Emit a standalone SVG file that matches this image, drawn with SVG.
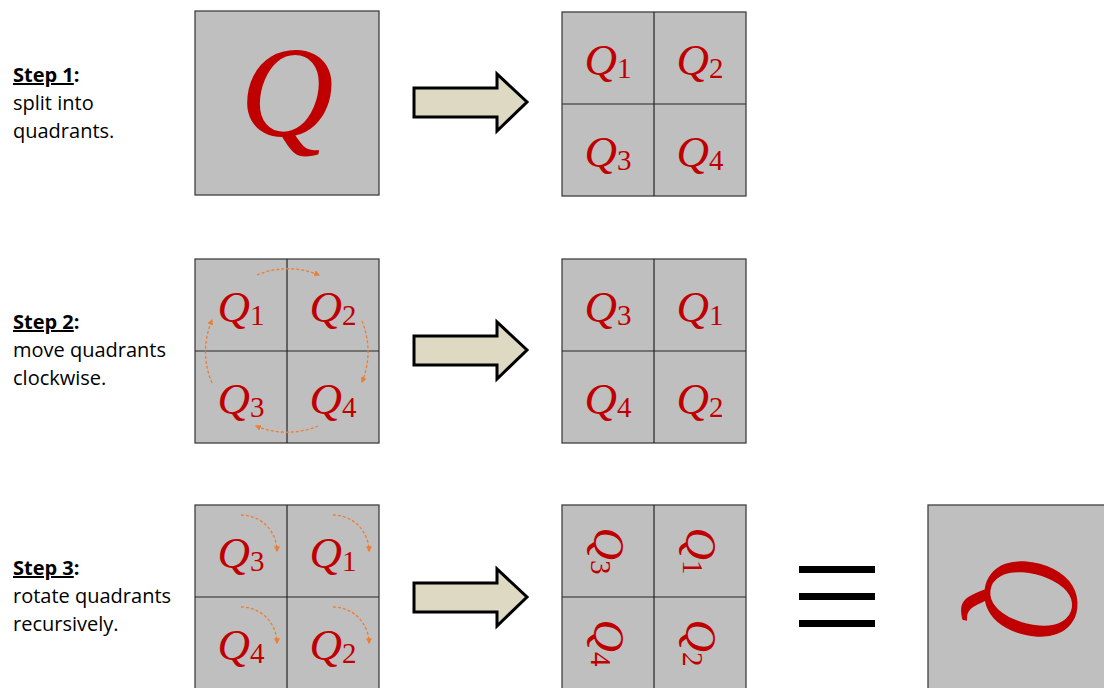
<svg xmlns="http://www.w3.org/2000/svg" width="1104" height="688" viewBox="0 0 1104 688">
<defs>
<style>
.lbl{font-family:"Open Sans","Liberation Sans",sans-serif;font-size:20px;fill:#000}
.box{fill:#BFBFBF;stroke:#404040;stroke-width:1.3}
.div{stroke:#262626;stroke-width:1.2;fill:none}
.q{font-family:"Liberation Serif","DejaVu Serif",serif;font-style:italic;font-size:45px;fill:#C00000}
.sub{font-style:normal;font-size:29px}
.arr{fill:#DDD9C3;stroke:#000;stroke-width:3;stroke-linejoin:miter}
.orb{fill:none;stroke:#ED7D31;stroke-width:1.3;stroke-dasharray:3 2;marker-end:url(#ah)}
.bar{fill:#000}
</style>
<marker id="ah" viewBox="0 0 10 10" refX="8" refY="5" markerWidth="6" markerHeight="6" orient="auto" markerUnits="userSpaceOnUse">
<path d="M0,0 L10,5 L0,10 z" fill="#ED7D31"/>
</marker>
</defs>
<rect width="1104" height="688" fill="#fff"/>

<g id="step1-label">
<text class="lbl" x="13" y="82"><tspan font-weight="bold" text-decoration="underline">Step 1</tspan><tspan font-weight="bold">:</tspan></text>
<text class="lbl" x="13" y="110">split into</text>
<text class="lbl" x="13" y="138">quadrants.</text>
</g>
<g id="step2-label">
<text class="lbl" x="13" y="329"><tspan font-weight="bold" text-decoration="underline">Step 2</tspan><tspan font-weight="bold">:</tspan></text>
<text class="lbl" x="13" y="357">move quadrants</text>
<text class="lbl" x="13" y="385">clockwise.</text>
</g>
<g id="step3-label">
<text class="lbl" x="13" y="575"><tspan font-weight="bold" text-decoration="underline">Step 3</tspan><tspan font-weight="bold">:</tspan></text>
<text class="lbl" x="13" y="603">rotate quadrants</text>
<text class="lbl" x="13" y="631">recursively.</text>
</g>

<g id="step1-Q">
<rect class="box" x="195" y="11" width="184" height="184"/>
<text class="q" x="287" y="136" text-anchor="middle" style="font-size:130px">Q</text>
</g>

<g id="step1-grid">
<rect class="box" x="562" y="12" width="184" height="184"/>
<path class="div" d="M654,12V196M562,104H746"/>
<text class="q" x="608" y="75" text-anchor="middle">Q<tspan class="sub" dy="3">1</tspan></text>
<text class="q" x="700" y="75" text-anchor="middle">Q<tspan class="sub" dy="3">2</tspan></text>
<text class="q" x="608" y="167" text-anchor="middle">Q<tspan class="sub" dy="3">3</tspan></text>
<text class="q" x="700" y="167" text-anchor="middle">Q<tspan class="sub" dy="3">4</tspan></text>
</g>

<g id="step2-grid-left">
<rect class="box" x="195" y="259" width="184" height="184"/>
<path class="div" d="M287,259V443M195,351H379"/>
<text class="q" x="241" y="322" text-anchor="middle">Q<tspan class="sub" dy="3">1</tspan></text>
<text class="q" x="333" y="322" text-anchor="middle">Q<tspan class="sub" dy="3">2</tspan></text>
<text class="q" x="241" y="414" text-anchor="middle">Q<tspan class="sub" dy="3">3</tspan></text>
<text class="q" x="333" y="414" text-anchor="middle">Q<tspan class="sub" dy="3">4</tspan></text>
</g>

<g id="step2-grid-right">
<rect class="box" x="562" y="259" width="184" height="184"/>
<path class="div" d="M654,259V443M562,351H746"/>
<text class="q" x="608" y="322" text-anchor="middle">Q<tspan class="sub" dy="3">3</tspan></text>
<text class="q" x="700" y="322" text-anchor="middle">Q<tspan class="sub" dy="3">1</tspan></text>
<text class="q" x="608" y="414" text-anchor="middle">Q<tspan class="sub" dy="3">4</tspan></text>
<text class="q" x="700" y="414" text-anchor="middle">Q<tspan class="sub" dy="3">2</tspan></text>
</g>

<g id="step3-grid-left">
<rect class="box" x="195" y="505" width="184" height="190"/>
<path class="div" d="M287,505V695M195,597H379"/>
<text class="q" x="241" y="568" text-anchor="middle">Q<tspan class="sub" dy="3">3</tspan></text>
<text class="q" x="333" y="568" text-anchor="middle">Q<tspan class="sub" dy="3">1</tspan></text>
<text class="q" x="241" y="660" text-anchor="middle">Q<tspan class="sub" dy="3">4</tspan></text>
<text class="q" x="333" y="660" text-anchor="middle">Q<tspan class="sub" dy="3">2</tspan></text>
</g>

<g id="step3-grid-right">
<rect class="box" x="562" y="505" width="184" height="190"/>
<path class="div" d="M654,505V695M562,597H746"/>
<g transform="translate(608,551) rotate(90)"><text class="q" x="0" y="14" text-anchor="middle">Q<tspan class="sub" dy="3">3</tspan></text></g>
<g transform="translate(700,551) rotate(90)"><text class="q" x="0" y="14" text-anchor="middle">Q<tspan class="sub" dy="3">1</tspan></text></g>
<g transform="translate(608,643) rotate(90)"><text class="q" x="0" y="14" text-anchor="middle">Q<tspan class="sub" dy="3">4</tspan></text></g>
<g transform="translate(700,643) rotate(90)"><text class="q" x="0" y="14" text-anchor="middle">Q<tspan class="sub" dy="3">2</tspan></text></g>
</g>

<g id="equiv">
<rect class="bar" x="799" y="566" width="76" height="7"/>
<rect class="bar" x="799" y="593" width="76" height="7"/>
<rect class="bar" x="799" y="620" width="76" height="7"/>
</g>

<g id="result-Q">
<rect class="box" x="928" y="505" width="190" height="190"/>
<g transform="translate(1034,597) scale(1.08,0.88) rotate(95)"><text class="q" x="0" y="45" text-anchor="middle" style="font-size:130px">Q</text></g>
</g>

<g id="connectors">
<polygon class="arr" points="414,88 497,88 497,74 527,102 497,131 497,117 414,117"/>
<polygon class="arr" points="414,336 497,336 497,322 527,350 497,379 497,365 414,365"/>
<polygon class="arr" points="414,583 497,583 497,569 527,597 497,626 497,612 414,612"/>
<path class="orb" d="M257,275 A80,80 0 0 1 319,275"/>
<path class="orb" d="M362,321 A80,80 0 0 1 362,382"/>
<path class="orb" d="M318,426 A80,80 0 0 1 256,426"/>
<path class="orb" d="M212,383 A80,80 0 0 1 212,320"/>
<path class="orb" d="M241,515 A36,36 0 0 1 277,551"/>
<path class="orb" d="M333,515 A36,36 0 0 1 369,551"/>
<path class="orb" d="M241,607 A36,36 0 0 1 277,643"/>
<path class="orb" d="M333,607 A36,36 0 0 1 369,643"/>
</g>
</svg>
